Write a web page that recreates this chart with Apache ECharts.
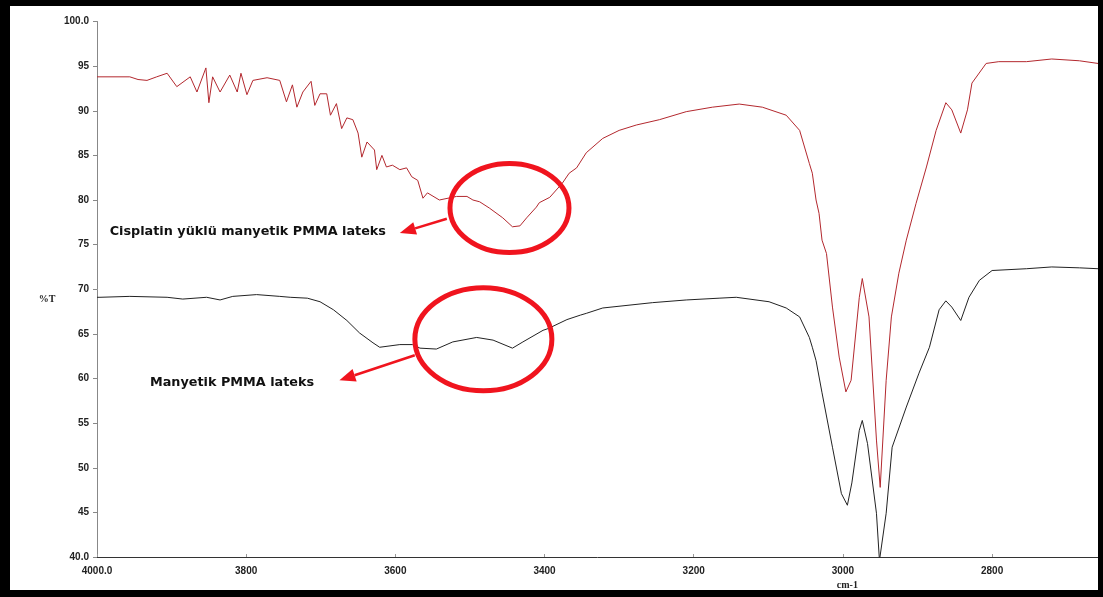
<!DOCTYPE html>
<html><head><meta charset="utf-8">
<script src="https://cdn.jsdelivr.net/npm/echarts@6/dist/echarts.min.js"></script>
<style>html,body{margin:0;padding:0;background:#fff}#c{width:1103px;height:597px}</style>
</head><body><div id="c"></div>
<script>
// Cisplatin yüklü manyetik PMMA lateks (red)
const redWn = [4000,3996,3956,3945,3933,3920,3906,3893,3875,3866,3854,3850,3845,3835,3822,3812,3807,3799,3791,3772,3755,3746,3738,3732,3724,3713,3708,3701,3692,3687,3679,3672,3665,3657,3650,3645,3638,3628,3625,3618,3612,3604,3594,3585,3578,3570,3563,3557,3541,3518,3504,3496,3487,3474,3456,3443,3433,3424,3411,3407,3393,3376,3367,3357,3344,3322,3300,3277,3246,3210,3175,3139,3108,3076,3058,3045,3041,3036,3032,3028,3022,3014,3005,2996,2989,2978,2974,2965,2955,2950,2942,2935,2925,2915,2902,2888,2875,2862,2854,2842,2833,2827,2808,2791,2754,2720,2683,2658];
const redT  = [93.8,93.8,93.8,93.5,93.4,93.8,94.2,92.7,93.8,92.1,94.8,90.9,93.8,92.1,94.0,92.1,94.2,91.8,93.4,93.7,93.4,91.0,92.9,90.4,92.1,93.3,90.6,91.9,91.9,89.5,90.8,88.0,89.2,89.0,87.5,84.8,86.5,85.6,83.4,85.0,83.7,83.9,83.4,83.6,82.6,82.2,80.2,80.8,80.0,80.4,80.4,80.0,79.8,79.1,78.0,77.0,77.1,78.0,79.2,79.7,80.3,81.9,83.0,83.6,85.3,86.9,87.8,88.4,89.0,89.9,90.4,90.75,90.4,89.5,87.8,84.1,83.0,80.0,78.5,75.5,74.0,68.0,62.4,58.5,59.8,69.1,71.2,66.9,53.1,47.8,59.8,66.9,71.8,75.5,79.6,83.7,87.8,90.9,90.1,87.5,90.1,93.1,95.3,95.5,95.5,95.8,95.6,95.3];
// Manyetik PMMA lateks (black)
const blackWn = [4000,3996,3956,3906,3885,3853,3835,3818,3786,3755,3741,3718,3701,3683,3665,3648,3630,3621,3594,3577,3567,3545,3523,3491,3469,3443,3429,3402,3395,3370,3352,3344,3322,3255,3210,3166,3143,3099,3076,3058,3045,3041,3036,3028,3014,3002,2994,2988,2978,2974,2967,2955,2951,2942,2934,2915,2898,2884,2871,2862,2854,2842,2831,2817,2800,2754,2720,2683,2658];
const blackT  = [69.1,69.1,69.2,69.1,68.9,69.1,68.8,69.2,69.4,69.2,69.1,69.0,68.6,67.7,66.5,65.1,64.0,63.5,63.8,63.8,63.4,63.3,64.1,64.6,64.3,63.4,64.1,65.4,65.6,66.6,67.1,67.3,67.9,68.5,68.8,69.0,69.1,68.6,67.9,66.9,64.6,63.5,62.0,58.4,52.3,47.1,45.8,48.3,54.2,55.3,52.7,44.9,39.6,44.9,52.3,56.8,60.6,63.5,67.7,68.7,68.0,66.5,69.1,71.0,72.1,72.3,72.5,72.4,72.3];
const labelRed = 'Cisplatin yüklü manyetik PMMA lateks';
const labelBlack = 'Manyetik PMMA lateks';
const yName = '%T';
const xName = 'cm-1';

const zip = (a,b) => a.map((v,i)=>[v,b[i]]);
const chart = echarts.init(document.getElementById('c'), null, {renderer:'canvas'});
const lblFont = {fontFamily:'Liberation Sans', fontWeight:'bold', fontSize:10, color:'#222'};
chart.setOption({
  animation:false,
  backgroundColor:'#fff',
  grid:{left:97, right:5, top:21.5, bottom:40, containLabel:false},
  xAxis:{type:'value', inverse:true, min:2658, max:4000, minInterval:200, maxInterval:200,
    axisLine:{lineStyle:{color:'#333', width:1}},
    axisTick:{inside:true, length:3, lineStyle:{color:'#999'}},
    splitLine:{show:false},
    axisLabel:Object.assign({margin:9, formatter:v=> v===4000?'4000.0':(v%200===0?String(v):'')}, lblFont)},
  yAxis:{type:'value', min:40, max:100, interval:5,
    axisLine:{show:true, lineStyle:{color:'#888', width:1}},
    axisTick:{show:true, length:4, lineStyle:{color:'#888'}},
    splitLine:{show:false},
    axisLabel:Object.assign({margin:8, formatter:v=> (v===100||v===40)? v.toFixed(1): String(v)}, lblFont)},
  series:[
    {type:'line', data:zip(redWn,redT), showSymbol:false, symbol:'none', lineStyle:{color:'#b3282e', width:1}, clip:true},
    {type:'line', data:zip(blackWn,blackT), showSymbol:false, symbol:'none', lineStyle:{color:'#222', width:1}, clip:true}
  ]
});

function px(w,v){ return chart.convertToPixel({gridIndex:0},[w,v]); }
function arrow(from, to){
  const a = px(from[0],from[1]), b = px(to[0],to[1]);
  const dx=b[0]-a[0], dy=b[1]-a[1], L=Math.hypot(dx,dy), ux=dx/L, uy=dy/L;
  const hl=16, hw=6.5;
  const bx=b[0]-ux*hl, by=b[1]-uy*hl;
  return [
    {type:'line', shape:{x1:a[0],y1:a[1],x2:bx,y2:by}, style:{stroke:'#f0141e', lineWidth:2.5}, z:100},
    {type:'polygon', shape:{points:[[b[0],b[1]],[bx-uy*hw,by+ux*hw],[bx+uy*hw,by-ux*hw]]}, style:{fill:'#f0141e'}, z:100}
  ];
}
const e1 = px(3447,79.1), e2 = px(3482,64.4);
const t1 = px(3983,76.4), t2 = px(3929,59.5), xn = px(2994,40), yn = px(4000,68.9);
const W=1103,H=597;
chart.setOption({graphic:[
  {type:'ellipse', shape:{cx:e1[0],cy:e1[1],rx:59.5,ry:44.5}, style:{fill:'none',stroke:'#f0141e',lineWidth:5}, z:100},
  {type:'ellipse', shape:{cx:e2[0],cy:e2[1],rx:68.5,ry:51.5}, style:{fill:'none',stroke:'#f0141e',lineWidth:5}, z:100},
  ...arrow([3531,77.9],[3594,76.3]),
  ...arrow([3574,62.6],[3675,59.8]),
  {type:'text', x:t1[0], y:t1[1], style:{text:labelRed, fill:'#111', font:'bold 12.8px "DejaVu Sans"', textVerticalAlign:'middle', verticalAlign:'middle'}, z:100},
  {type:'text', x:t2[0], y:t2[1], style:{text:labelBlack, fill:'#111', font:'bold 12.8px "DejaVu Sans"', textVerticalAlign:'middle', verticalAlign:'middle'}, z:100},
  {type:'text', x:xn[0], y:585, style:{text:xName, fill:'#222', font:'bold 10px "Liberation Serif"', align:'center', textAlign:'center', verticalAlign:'middle', textVerticalAlign:'middle'}, z:100},
  {type:'text', x:yn[0]-50, y:yn[1], style:{text:yName, fill:'#222', font:'bold 10px "Liberation Serif"', align:'center', textAlign:'center', verticalAlign:'middle', textVerticalAlign:'middle'}, z:100},
  {type:'rect', shape:{x:0,y:0,width:10,height:H}, style:{fill:'#000'}, z:200},
  {type:'rect', shape:{x:0,y:0,width:W,height:6}, style:{fill:'#000'}, z:200},
  {type:'rect', shape:{x:W-5,y:0,width:5,height:H}, style:{fill:'#000'}, z:200},
  {type:'rect', shape:{x:0,y:H-7,width:W,height:7}, style:{fill:'#000'}, z:200}
]});
</script></body></html>
